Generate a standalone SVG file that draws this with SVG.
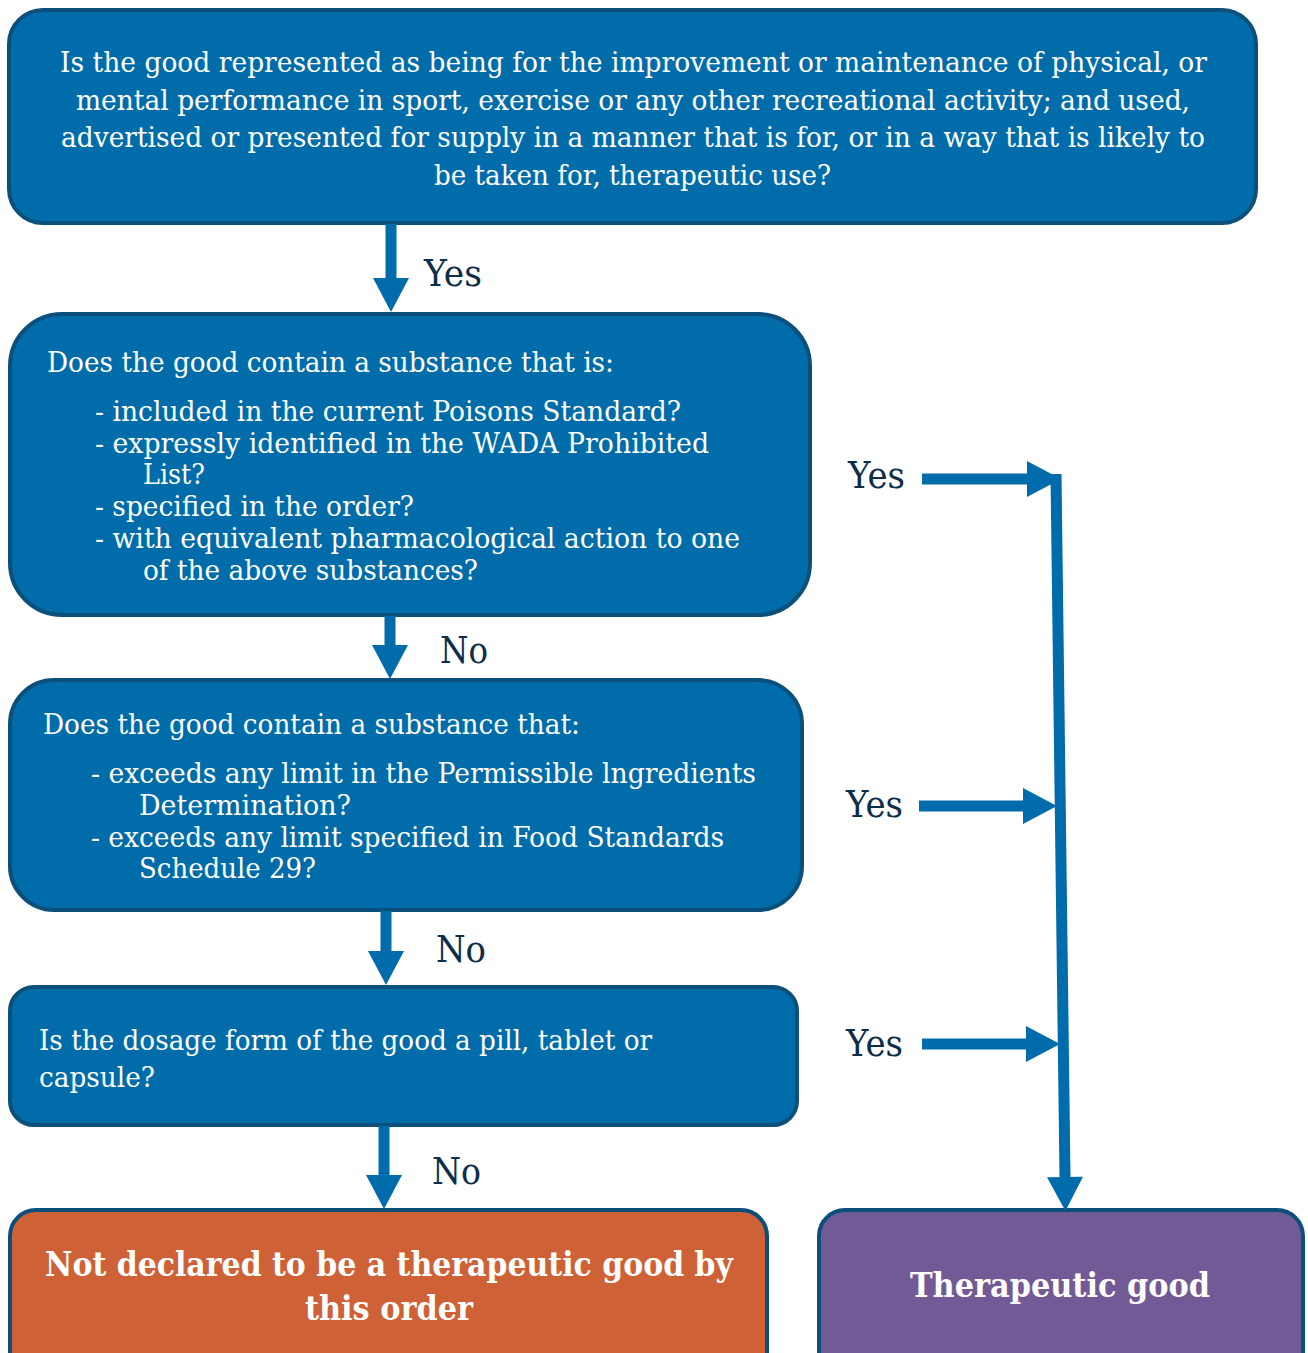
<svg xmlns="http://www.w3.org/2000/svg" width="1308" height="1353" viewBox="0 0 1308 1353">
<style>
.box{fill:#006caa;stroke:#0b4f7a;stroke-width:4}
.orange{fill:#cf6136;stroke:#0b4f7a;stroke-width:4}
.purple{fill:#725a96;stroke:#0b4f7a;stroke-width:4}
.t{font-family:"DejaVu Serif","Liberation Serif",serif;font-size:28px;fill:#ffffff}
.b{font-family:"DejaVu Serif","Liberation Serif",serif;font-size:33px;font-weight:bold;fill:#ffffff}
.lbl{font-family:"DejaVu Serif","Liberation Serif",serif;font-size:37px;fill:#0e2d4b}
.c{stroke:#006cab;stroke-width:11;fill:none}
</style>
<defs>
<marker id="ah" markerUnits="userSpaceOnUse" markerWidth="34" markerHeight="36" refX="0" refY="18" orient="auto" overflow="visible">
<path d="M0,0 L34,18 L0,36 Z" fill="#006cab"/>
</marker>
</defs>

<g id="q1">
<rect class="box" x="9" y="10" width="1247" height="213" rx="34"/>
<text class="t" x="60" y="72" textLength="1147" lengthAdjust="spacingAndGlyphs">Is the good represented as being for the improvement or maintenance of physical, or</text>
<text class="t" x="76" y="110" textLength="1114" lengthAdjust="spacingAndGlyphs">mental performance in sport, exercise or any other recreational activity; and used,</text>
<text class="t" x="61" y="147" textLength="1144" lengthAdjust="spacingAndGlyphs">advertised or presented for supply in a manner that is for, or in a way that is likely to</text>
<text class="t" x="434" y="185" textLength="397" lengthAdjust="spacingAndGlyphs">be taken for, therapeutic use?</text>
</g>

<g id="q2">
<rect class="box" x="10" y="314" width="800" height="301" rx="52"/>
<text class="t" x="47" y="372" textLength="567" lengthAdjust="spacingAndGlyphs">Does the good contain a substance that is:</text>
<text class="t" x="95" y="421" textLength="586" lengthAdjust="spacingAndGlyphs">- included in the current Poisons Standard?</text>
<text class="t" x="95" y="453" textLength="614" lengthAdjust="spacingAndGlyphs">- expressly identified in the WADA Prohibited</text>
<text class="t" x="143" y="484" textLength="62" lengthAdjust="spacingAndGlyphs">List?</text>
<text class="t" x="95" y="516" textLength="319" lengthAdjust="spacingAndGlyphs">- specified in the order?</text>
<text class="t" x="95" y="548" textLength="645" lengthAdjust="spacingAndGlyphs">- with equivalent pharmacological action to one</text>
<text class="t" x="143" y="580" textLength="335" lengthAdjust="spacingAndGlyphs">of the above substances?</text>
</g>

<g id="q3">
<rect class="box" x="10" y="680" width="792" height="230" rx="44"/>
<text class="t" x="43" y="734" textLength="537" lengthAdjust="spacingAndGlyphs">Does the good contain a substance that:</text>
<text class="t" x="91" y="783" textLength="665" lengthAdjust="spacingAndGlyphs">- exceeds any limit in the Permissible lngredients</text>
<text class="t" x="139" y="815" textLength="212" lengthAdjust="spacingAndGlyphs">Determination?</text>
<text class="t" x="91" y="847" textLength="633" lengthAdjust="spacingAndGlyphs">- exceeds any limit specified in Food Standards</text>
<text class="t" x="139" y="878" textLength="177" lengthAdjust="spacingAndGlyphs">Schedule 29?</text>
</g>

<g id="q4">
<rect class="box" x="10" y="987" width="787" height="138" rx="24"/>
<text class="t" x="39" y="1050" textLength="613" lengthAdjust="spacingAndGlyphs">Is the dosage form of the good a pill, tablet or</text>
<text class="t" x="39" y="1087" textLength="116" lengthAdjust="spacingAndGlyphs">capsule?</text>
</g>

<g id="notdeclared">
<rect class="orange" x="10" y="1210" width="757" height="175" rx="26"/>
<text class="b" x="45" y="1276" textLength="688" lengthAdjust="spacingAndGlyphs">Not declared to be a therapeutic good by</text>
<text class="b" x="305" y="1320" textLength="168" lengthAdjust="spacingAndGlyphs">this order</text>
</g>

<g id="therapeutic">
<rect class="purple" x="819" y="1210" width="484" height="175" rx="26"/>
<text class="b" x="910" y="1297" textLength="300" lengthAdjust="spacingAndGlyphs">Therapeutic good</text>
</g>

<g id="connectors">
<line class="c" x1="391" y1="224" x2="391" y2="278" marker-end="url(#ah)"/>
<line class="c" x1="390" y1="616" x2="390" y2="645" marker-end="url(#ah)"/>
<line class="c" x1="386" y1="911" x2="386" y2="951" marker-end="url(#ah)"/>
<line class="c" x1="384" y1="1126" x2="384" y2="1175" marker-end="url(#ah)"/>
<line class="c" x1="922" y1="479" x2="1027" y2="479" marker-end="url(#ah)"/>
<line class="c" x1="919" y1="806" x2="1023" y2="806" marker-end="url(#ah)"/>
<line class="c" x1="922" y1="1044" x2="1026" y2="1044" marker-end="url(#ah)"/>
<line class="c" x1="1056" y1="474" x2="1065" y2="1177" marker-end="url(#ah)"/>
</g>

<g id="labels">
<text class="lbl" x="424" y="286" textLength="58" lengthAdjust="spacingAndGlyphs">Yes</text>
<text class="lbl" x="440" y="663" textLength="48" lengthAdjust="spacingAndGlyphs">No</text>
<text class="lbl" x="436" y="962" textLength="50" lengthAdjust="spacingAndGlyphs">No</text>
<text class="lbl" x="432" y="1184" textLength="49" lengthAdjust="spacingAndGlyphs">No</text>
<text class="lbl" x="848" y="488" textLength="57" lengthAdjust="spacingAndGlyphs">Yes</text>
<text class="lbl" x="846" y="817" textLength="57" lengthAdjust="spacingAndGlyphs">Yes</text>
<text class="lbl" x="846" y="1056" textLength="57" lengthAdjust="spacingAndGlyphs">Yes</text>
</g>
</svg>
